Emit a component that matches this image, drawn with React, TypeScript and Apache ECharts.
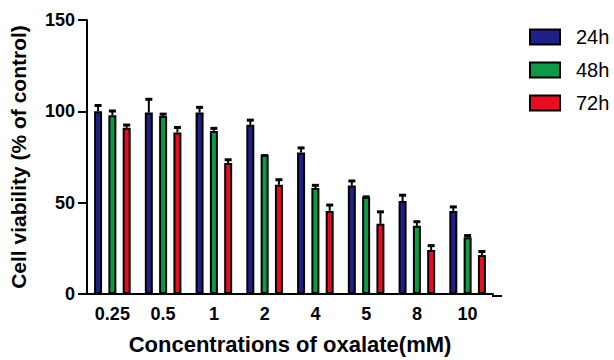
import React, { useEffect, useRef } from "react";
import * as echarts from "echarts";

const categories = ["0.25", "0.5", "1", "2", "4", "5", "8", "10"];
const seriesNames = ["24h", "48h", "72h"];
const mean24 = [100, 99.3, 99.3, 92.6, 77.5, 59.4, 50.9, 45.5];
const sd24 = [4, 8.1, 3.7, 3.4, 3.3, 3.3, 4, 3];
const mean48 = [97.8, 97.5, 89.3, 76.1, 58, 53.1, 37.3, 31];
const sd48 = [3.2, 1.8, 2.2, 0.5, 2.3, 0.9, 3.1, 1.8];
const mean72 = [91, 88.4, 71.7, 59.8, 45.5, 38.4, 24.1, 21.4];
const sd72 = [2.3, 3.6, 2.6, 3.6, 4, 7.4, 3.2, 2.7];
const yTicks = [0, 50, 100, 150];

const colors = ["#1e2188", "#0d9a47", "#e80c1f"];
const FONT = "'Liberation Sans', Arial, sans-serif";

export default function App() {
  const ref = useRef<HTMLDivElement>(null);
  useEffect(() => {
    if (!ref.current) return;
    document.body.style.margin = "0";
    const chart = echarts.init(ref.current, null, { renderer: "svg" });
    const means = [mean24, mean48, mean72];
    const sds = [sd24, sd48, sd72];
    const BAR_W = 8;
    const SPACING = 14.3;

    const barSeries = seriesNames.map((name, i) => ({
      name,
      type: "bar",
      data: means[i],
      barWidth: BAR_W,
      barGap: ((SPACING - BAR_W) / BAR_W) * 100 + "%",
      itemStyle: { color: colors[i], borderColor: "#000", borderWidth: 2 },
      z: 2,
    }));

    const errSeries = seriesNames.map((name, i) => ({
      name: name + "-err",
      type: "custom",
      z: 3,
      data: means[i].map((m, j) => [j, m, m + sds[i][j]]),
      encode: { x: 0, y: 1 },
      renderItem: (params: any, api: any) => {
        const xIdx = api.value(0);
        const base = api.coord([xIdx, api.value(1)]);
        const top = api.coord([xIdx, api.value(2)]);
        const off = (i - 1) * SPACING;
        const x = base[0] + off;
        const capY = top[1] + 1.5;
        return {
          type: "group",
          children: [
            {
              type: "line",
              shape: { x1: x, y1: base[1], x2: x, y2: capY },
              style: { stroke: "#000", lineWidth: 2 },
            },
            {
              type: "line",
              shape: { x1: x - 3.5, y1: capY, x2: x + 3.5, y2: capY },
              style: { stroke: "#000", lineWidth: 3 },
            },
          ],
        };
      },
    }));

    chart.setOption({
      animation: false,
      textStyle: { fontFamily: FONT },
      grid: { left: 85, top: 20, width: 408, height: 276 },
      legend: {
        data: seriesNames,
        orient: "vertical",
        left: 529,
        top: 27,
        padding: 0,
        icon: "rect",
        itemWidth: 30,
        itemHeight: 15,
        itemGap: 13,
        itemStyle: { borderColor: "#000", borderWidth: 2 },
        textStyle: {
          fontSize: 20,
          color: "#000",
          fontFamily: FONT,
          padding: [0, 0, 0, 11],
        },
      },
      xAxis: {
        type: "category",
        data: categories,
        name: "Concentrations of oxalate(mM)",
        nameLocation: "middle",
        nameGap: 39,
        nameTextStyle: { fontSize: 22, fontWeight: "bold", color: "#000", fontFamily: FONT },
        axisLine: { lineStyle: { color: "#000", width: 2 } },
        axisTick: { alignWithLabel: true, length: 8, lineStyle: { color: "#000", width: 2 } },
        axisLabel: { fontSize: 18, fontWeight: "bold", color: "#000", margin: 11, fontFamily: FONT },
      },
      yAxis: {
        type: "value",
        min: yTicks[0],
        max: yTicks[yTicks.length - 1],
        interval: 50,
        name: "Cell viability (% of control)",
        nameLocation: "middle",
        nameGap: 58,
        nameTextStyle: { fontSize: 21, fontWeight: "bold", color: "#000", fontFamily: FONT },
        splitLine: { show: false },
        axisLine: { show: true, lineStyle: { color: "#000", width: 2 } },
        axisTick: { show: true, length: 9, lineStyle: { color: "#000", width: 2 } },
        axisLabel: { fontSize: 18, fontWeight: "bold", color: "#000", margin: 12, fontFamily: FONT },
      },
      graphic: [
        {
          type: "line",
          shape: { x1: 492, y1: 296, x2: 502, y2: 296 },
          style: { stroke: "#000", lineWidth: 2 },
        },
      ],
      series: [...barSeries, ...errSeries],
    });
    return () => chart.dispose();
  }, []);
  return <div ref={ref} style={{ width: 614, height: 360 }} />;
}
